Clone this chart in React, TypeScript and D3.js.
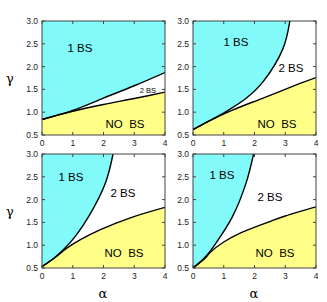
import * as d3 from "d3";

// alpha / gamma pairs, one boundary per curve
const upper1 = [[0, 0.84], [1, 1.04], [2, 1.31], [3, 1.58], [4, 1.87]];
const lower1 = [[0, 0.84], [1, 1.02], [2, 1.17], [3, 1.3], [4, 1.44]];
const upper2 = [[0, 0.62], [0.5, 0.8], [1.09, 1.02], [1.74, 1.31], [2.28, 1.67], [2.93, 2.4], [3.15, 3.0]];
const lower2 = [[0, 0.62], [0.5, 0.8], [1.3, 1.05], [2.28, 1.31], [3.48, 1.63], [4, 1.76]];
const upper3 = [[0, 0.53], [0.4, 0.72], [0.71, 0.91], [1.09, 1.2], [1.52, 1.63], [2.06, 2.36], [2.31, 3.0]];
const lower3 = [[0, 0.53], [0.4, 0.72], [0.82, 0.94], [1.25, 1.12], [1.9, 1.34], [2.87, 1.6], [4, 1.83]];
const upper4 = [[0, 0.5], [0.4, 0.74], [0.73, 1.03], [1.28, 1.62], [1.72, 2.35], [1.97, 3.0]];
const lower4 = [[0, 0.5], [0.4, 0.72], [0.57, 0.85], [1, 1.07], [1.55, 1.27], [2.54, 1.53], [3, 1.64], [4, 1.84]];

const xTicks = [0, 1, 2, 3, 4];
const yTicks = [0.5, 1.0, 1.5, 2.0, 2.5, 3.0];

const panels = [
  { x: 42, y: 21, upper: upper1, lower: lower1, bottomLabels: true, topLabels: false,
    l1: [80, 48], l2: [148, 90], l0: [125, 124], small: true },
  { x: 193, y: 21, upper: upper2, lower: lower2, bottomLabels: true, topLabels: false,
    l1: [236, 42], l2: [291, 68], l0: [277, 124], small: false },
  { x: 42, y: 154, upper: upper3, lower: lower3, bottomLabels: true, topLabels: false,
    l1: [71, 177], l2: [123, 193], l0: [124, 253], small: false },
  { x: 193, y: 154, upper: upper4, lower: lower4, bottomLabels: true, topLabels: false,
    l1: [222, 175], l2: [270, 197], l0: [275, 253], small: false },
];

const W = 123;
const H = 114;
const CYAN = "#82fafa";
const YELLOW = "#ffff88";
const FONT = "Liberation Sans, Arial, sans-serif";

function Panel({ p, idx }: { p: any; idx: number }) {
  const x = d3.scaleLinear().domain([0, 4]).range([p.x, p.x + W]);
  const y = d3.scaleLinear().domain([0.5, 3]).range([p.y + H, p.y]);
  const curve = d3.curveCatmullRom.alpha(0.5);
  const line = d3.line<number[]>().x(d => x(d[0])).y(d => y(d[1])).curve(curve);
  const above = d3.area<number[]>().x(d => x(d[0])).y0(y(3)).y1(d => y(d[1])).curve(curve);
  const below = d3.area<number[]>().x(d => x(d[0])).y0(y(0.5)).y1(d => y(d[1])).curve(curve);
  const clipId = "clip" + idx;
  return (
    <g>
      <defs>
        <clipPath id={clipId}>
          <rect x={p.x} y={p.y} width={W} height={H} />
        </clipPath>
      </defs>
      <g clipPath={`url(#${clipId})`}>
        <path d={above(p.upper) || ""} fill={CYAN} />
        <path d={below(p.lower) || ""} fill={YELLOW} />
        <path d={line(p.upper) || ""} fill="none" stroke="#000" strokeWidth={1.4} />
        <path d={line(p.lower) || ""} fill="none" stroke="#000" strokeWidth={1.4} />
      </g>
      <rect x={p.x} y={p.y} width={W} height={H} fill="none" stroke="#444" strokeWidth={1} />
      {xTicks.map(t => (
        <g key={"xt" + t}>
          <line x1={x(t)} x2={x(t)} y1={p.y + H} y2={p.y + H - 3} stroke="#444" />
          <line x1={x(t)} x2={x(t)} y1={p.y} y2={p.y + 3} stroke="#444" />
        </g>
      ))}
      {yTicks.map(t => (
        <g key={"yt" + t}>
          <line x1={p.x} x2={p.x + 3} y1={y(t)} y2={y(t)} stroke="#444" />
          <line x1={p.x + W} x2={p.x + W - 3} y1={y(t)} y2={y(t)} stroke="#444" />
          <text x={p.x - 4} y={y(t)} dy="0.35em" textAnchor="end" fontSize={8.5} fill="#222" fontFamily={FONT}>
            {t.toFixed(1)}
          </text>
        </g>
      ))}
      {xTicks.map(t => (
        <text key={"xl" + t} x={x(t)} y={p.y + H + 11} textAnchor="middle" fontSize={8.5} fill="#222" fontFamily={FONT}>
          {t}
        </text>
      ))}
      <text x={p.l1[0]} y={p.l1[1]} dy="0.35em" textAnchor="middle" fontSize={11.5} fontFamily={FONT}>1 BS</text>
      <text x={p.l2[0]} y={p.l2[1]} dy="0.35em" textAnchor="middle" fontSize={p.small ? 7.5 : 11.5} fontFamily={FONT}>2 BS</text>
      <text x={p.l0[0]} y={p.l0[1]} dy="0.35em" textAnchor="middle" fontSize={11.5} fontFamily={FONT} style={{ whiteSpace: "pre" }}>
        {"NO  BS"}
      </text>
    </g>
  );
}

export default function App() {
  return (
    <svg width={327} height={302} style={{ position: "absolute", left: 0, top: 0, background: "#fff" }}>
      {panels.map((p, i) => (
        <Panel key={i} p={p} idx={i} />
      ))}
      <text x={10} y={78} dy="0.35em" textAnchor="middle" fontSize={13} fontFamily="DejaVu Serif, serif">γ</text>
      <text x={10} y={211} dy="0.35em" textAnchor="middle" fontSize={13} fontFamily="DejaVu Serif, serif">γ</text>
      <text x={103} y={293} dy="0.35em" textAnchor="middle" fontSize={13} fontFamily="DejaVu Serif, serif">α</text>
      <text x={254} y={293} dy="0.35em" textAnchor="middle" fontSize={13} fontFamily="DejaVu Serif, serif">α</text>
    </svg>
  );
}
